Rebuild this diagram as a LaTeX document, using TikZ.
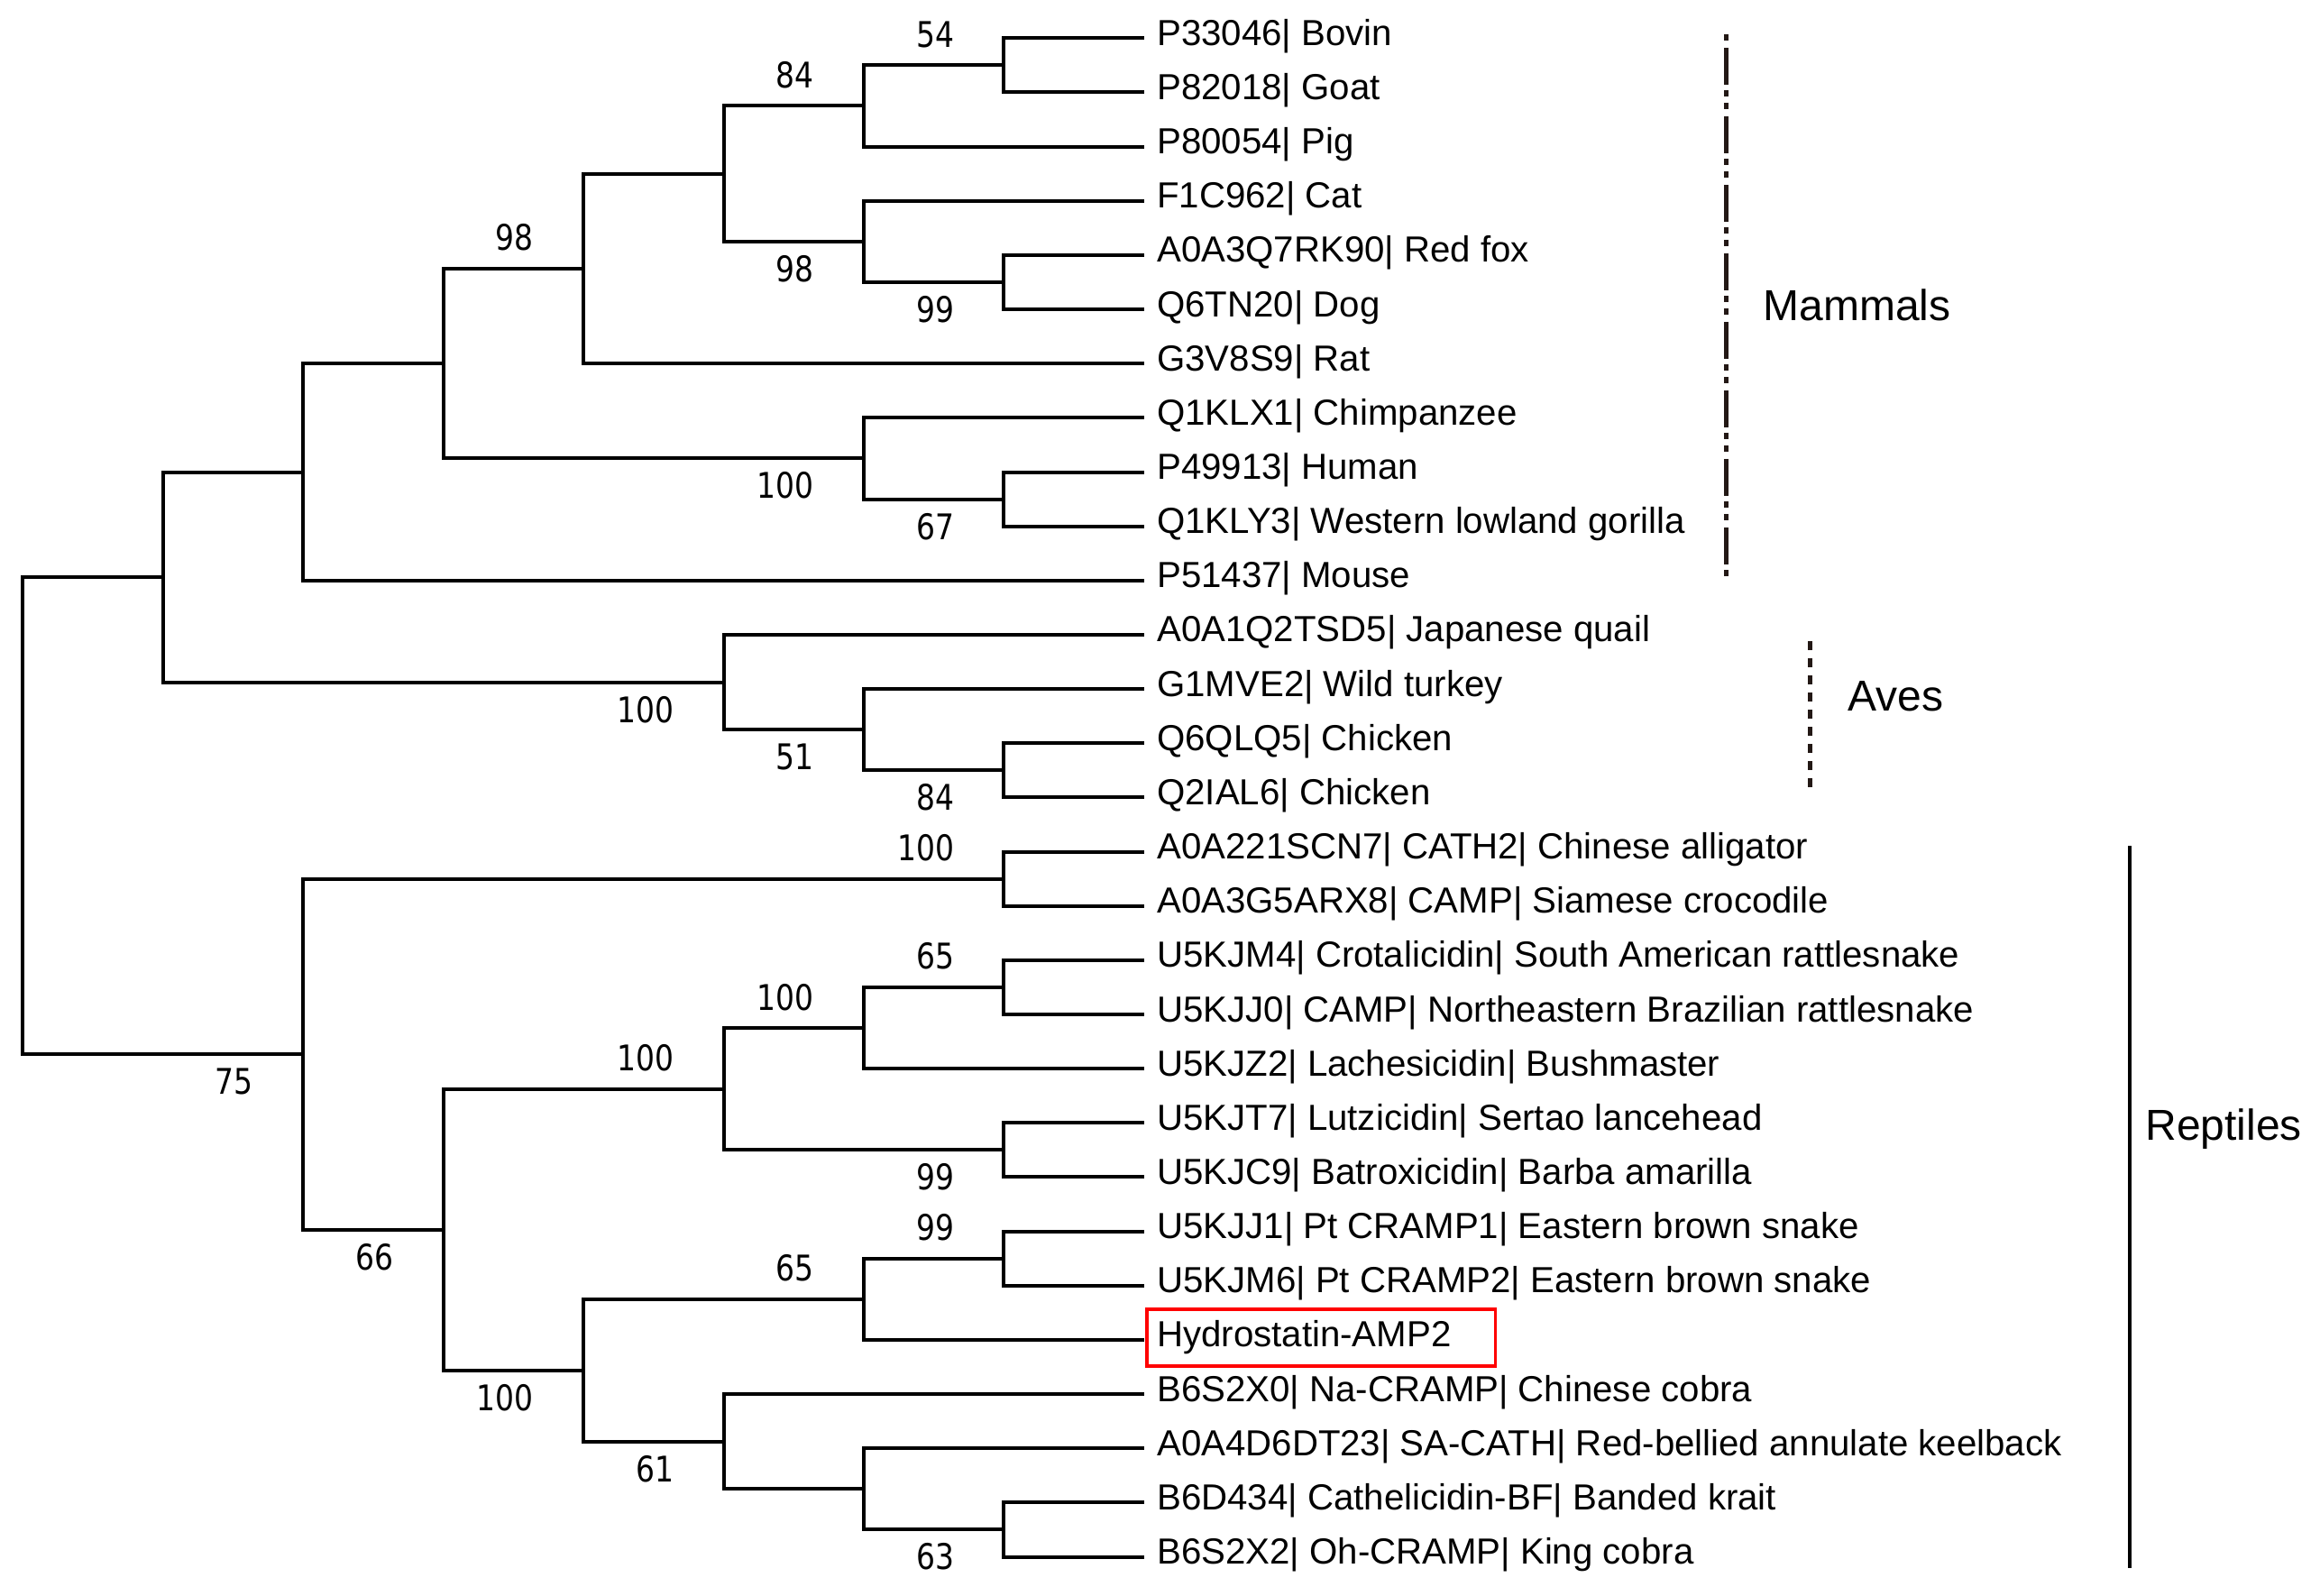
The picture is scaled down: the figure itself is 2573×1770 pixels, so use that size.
\documentclass[tikz,border=0pt]{standalone}
\usepackage{fontspec}
\setmainfont{Liberation Sans}
\newfontfamily\numfont[FakeStretch=0.84]{DejaVu Sans}
\definecolor{groupbrown}{HTML}{231815}
\newcommand\mkpt[3]{\coordinate (#1) at ({25.3+155.45*#2},{42.3+60.15*#3});}
\begin{document}
\begin{tikzpicture}[x=0.5pt,y=-0.5pt,
  branch/.style={line width=2pt, black},
  leaf/.style={anchor=base west, inner sep=0pt, xshift=7pt, yshift=-4pt, font=\fontsize{20.1}{24}\selectfont},
  bsup/.style={anchor=south east, inner sep=0pt, xshift=-27.5pt, yshift=9.5pt, font=\numfont\fontsize{19.6}{22}\selectfont},
  bsdn/.style={anchor=north east, inner sep=0pt, xshift=-27.5pt, yshift=-7.5pt, font=\numfont\fontsize{19.6}{22}\selectfont},
  grouplabel/.style={anchor=base west, inner sep=0pt, font=\fontsize{24}{28}\selectfont},
  mamline/.style={line width=2.8pt, groupbrown, dash pattern=on 3.5pt off 4pt on 20.5pt off 3pt on 3.5pt off 3.5pt},
  avesline/.style={line width=2.8pt, groupbrown, dash pattern=on 5pt off 4.5pt},
  repline/.style={line width=2pt, black},
  hlbox/.style={draw=red, line width=1.8pt, inner sep=0pt, minimum width=193.3pt, minimum height=31.65pt}
]
\useasboundingbox (0,0) rectangle (2573,1770);
% leaves
\foreach \i in {0,...,28} {\mkpt{t\i}{8}{\i}}
% internal nodes
\mkpt{BG}{7}{0.5}
\mkpt{M4}{6}{1.25}
\mkpt{FD}{7}{4.5}
\mkpt{M5}{6}{3.75}
\mkpt{M3}{5}{2.5}
\mkpt{M2}{4}{4.25}
\mkpt{HG}{7}{8.5}
\mkpt{Pr}{6}{7.75}
\mkpt{M1}{3}{6}
\mkpt{M}{2}{8}
\mkpt{Ch}{7}{13.5}
\mkpt{AvB}{6}{12.75}
\mkpt{Av}{5}{11.875}
\mkpt{A}{1}{9.9375}
\mkpt{CA}{7}{15.5}
\mkpt{SnA}{7}{17.5}
\mkpt{SnB}{6}{18.25}
\mkpt{SnC}{7}{20.5}
\mkpt{SnD}{5}{19.375}
\mkpt{Pt}{7}{22.5}
\mkpt{Hy}{6}{23.25}
\mkpt{Kr}{7}{27.5}
\mkpt{Ke}{6}{26.75}
\mkpt{Co}{5}{25.875}
\mkpt{El}{4}{24.5625}
\mkpt{Sn}{3}{21.96875}
\mkpt{R}{2}{18.734375}
\mkpt{Root}{0}{14.3359375}
% branches
\foreach \p/\c in {BG/t0,BG/t1,M4/BG,M4/t2,FD/t4,FD/t5,M5/t3,M5/FD,M3/M4,M3/M5,M2/M3,M2/t6,
  HG/t8,HG/t9,Pr/t7,Pr/HG,M1/M2,M1/Pr,M/M1,M/t10,Ch/t13,Ch/t14,AvB/t12,AvB/Ch,Av/t11,Av/AvB,A/M,A/Av,
  CA/t15,CA/t16,SnA/t17,SnA/t18,SnB/SnA,SnB/t19,SnC/t20,SnC/t21,SnD/SnB,SnD/SnC,Pt/t22,Pt/t23,Hy/Pt,Hy/t24,
  Kr/t27,Kr/t28,Ke/t26,Ke/Kr,Co/t25,Co/Ke,El/Hy,El/Co,Sn/SnD,Sn/El,R/CA,R/Sn,Root/A,Root/R}
  {\draw[branch] (\p) |- (\c);}
% bootstrap values
\foreach \n/\v in {BG/54,M4/84,M2/98,CA/100,SnA/65,SnB/100,SnD/100,Pt/99,Hy/65}
  {\node[bsup] (bs\n) at (\n) {\v};}
\foreach \n/\v in {M5/98,FD/99,Pr/100,HG/67,Av/100,AvB/51,Ch/84,SnC/99,El/100,Co/61,Kr/63,Sn/66,R/75}
  {\node[bsdn] (bs\n) at (\n) {\v};}
% leaf labels
\node[leaf] (l0) at (t0) {P33046| Bovin};
\node[leaf] (l1) at (t1) {P82018| Goat};
\node[leaf] (l2) at (t2) {P80054| Pig};
\node[leaf] (l3) at (t3) {F1C962| Cat};
\node[leaf] (l4) at (t4) {A0A3Q7RK90| Red fox};
\node[leaf] (l5) at (t5) {Q6TN20| Dog};
\node[leaf] (l6) at (t6) {G3V8S9| Rat};
\node[leaf] (l7) at (t7) {Q1KLX1| Chimpanzee};
\node[leaf] (l8) at (t8) {P49913| Human};
\node[leaf] (l9) at (t9) {Q1KLY3| Western lowland gorilla};
\node[leaf] (l10) at (t10) {P51437| Mouse};
\node[leaf] (l11) at (t11) {A0A1Q2TSD5| Japanese quail};
\node[leaf] (l12) at (t12) {G1MVE2| Wild turkey};
\node[leaf] (l13) at (t13) {Q6QLQ5| Chicken};
\node[leaf] (l14) at (t14) {Q2IAL6| Chicken};
\node[leaf] (l15) at (t15) {A0A221SCN7| CATH2| Chinese alligator};
\node[leaf] (l16) at (t16) {A0A3G5ARX8| CAMP| Siamese crocodile};
\node[leaf] (l17) at (t17) {U5KJM4| Crotalicidin| South American rattlesnake};
\node[leaf] (l18) at (t18) {U5KJJ0| CAMP| Northeastern Brazilian rattlesnake};
\node[leaf] (l19) at (t19) {U5KJZ2| Lachesicidin| Bushmaster};
\node[leaf] (l20) at (t20) {U5KJT7| Lutzicidin| Sertao lancehead};
\node[leaf] (l21) at (t21) {U5KJC9| Batroxicidin| Barba amarilla};
\node[leaf] (l22) at (t22) {U5KJJ1| Pt CRAMP1| Eastern brown snake};
\node[leaf] (l23) at (t23) {U5KJM6| Pt CRAMP2| Eastern brown snake};
\node[leaf] (l24) at (t24) {Hydrostatin-AMP2};
\node[leaf] (l25) at (t25) {B6S2X0| Na-CRAMP| Chinese cobra};
\node[leaf] (l26) at (t26) {A0A4D6DT23| SA-CATH| Red-bellied annulate keelback};
\node[leaf] (l27) at (t27) {B6D434| Cathelicidin-BF| Banded krait};
\node[leaf] (l28) at (t28) {B6S2X2| Oh-CRAMP| King cobra};
% highlight box
\node[hlbox] (hbox) at (1465,1483.35) {};
% group bars
\coordinate (mamtop) at (1914.3,38);
\coordinate (mambot) at (1914.3,643);
\coordinate (avetop) at (2007.3,711);
\coordinate (avebot) at (2007.3,877);
\coordinate (reptop) at (2361.7,938);
\coordinate (repbot) at (2361.7,1739);
\draw[mamline] (mamtop) -- (mambot);
\draw[avesline] (avetop) -- (avebot);
\draw[repline] (reptop) -- (repbot);
\node[grouplabel] (gMam) at (1955,356) {Mammals};
\node[grouplabel] (gAve) at (2049,788) {Aves};
\node[grouplabel] (gRep) at (2379,1264) {Reptiles};
\end{tikzpicture}
\end{document}
